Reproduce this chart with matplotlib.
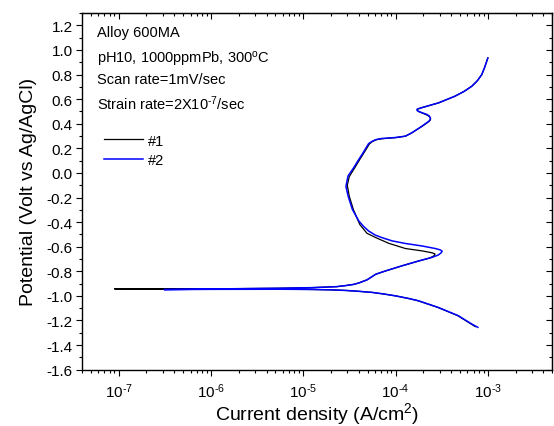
import numpy as np
import matplotlib
matplotlib.use("Agg")
import matplotlib.pyplot as plt
from matplotlib.ticker import MultipleLocator, FormatStrFormatter, LogLocator, NullFormatter, FuncFormatter

plt.rcParams["font.family"] = ["Liberation Sans", "DejaVu Sans"]
plt.rcParams["mathtext.fontset"] = "custom"
plt.rcParams["mathtext.rm"] = "Liberation Sans"
plt.rcParams["mathtext.it"] = "Liberation Sans:italic"
plt.rcParams["mathtext.default"] = "regular"
plt.rcParams["axes.unicode_minus"] = False

# run #2 (blue), from cathodic end through Ecorr to anodic end
cur2 = [7.8e-4, 6.7e-4, 4.8e-4, 2.9e-4, 1.78e-4, 1.4e-4, 1.0e-4, 7.5e-5, 5.6e-5,
        4.0e-5, 2.9e-5, 2.0e-5, 1.25e-5, 5.5e-6, 1.0e-6, 3.1e-7, 1.0e-6, 5.5e-6,
        1.25e-5, 2.3e-5, 2.9e-5, 3.5e-5, 4.0e-5, 4.9e-5, 6.1e-5, 7.8e-5, 1.17e-4,
        1.78e-4, 2.48e-4, 2.9e-4, 3.1e-4, 3.2e-4, 3.05e-4, 2.7e-4, 1.93e-4,
        1.28e-4, 9.2e-5, 7.1e-5, 6.0e-5, 5.1e-5, 4.5e-5, 4.0e-5, 3.4e-5, 3.06e-5,
        2.9e-5, 3.05e-5, 3.5e-5, 4.0e-5, 4.5e-5, 4.8e-5, 5.1e-5, 5.6e-5, 6.2e-5,
        7.1e-5, 1.0e-4, 1.28e-4, 1.5e-4, 1.93e-4, 2.3e-4, 2.37e-4, 2.38e-4,
        2.32e-4, 2.2e-4, 1.86e-4, 1.75e-4, 1.7e-4, 1.72e-4, 1.93e-4, 2.93e-4,
        4.4e-4, 5.5e-4, 6.7e-4, 7.7e-4, 8.6e-4, 9.3e-4, 1.0e-3]
pot2 = [-1.256, -1.229, -1.162, -1.094, -1.040, -1.022, -1.000, -0.985, -0.972,
        -0.963, -0.956, -0.951, -0.948, -0.946, -0.947, -0.949, -0.944, -0.938,
        -0.933, -0.925, -0.916, -0.907, -0.895, -0.870, -0.824, -0.797, -0.756,
        -0.716, -0.687, -0.668, -0.652, -0.637, -0.626, -0.615, -0.594,
        -0.574, -0.553, -0.526, -0.505, -0.472, -0.435, -0.391, -0.296, -0.188,
        -0.110, -0.026, 0.040, 0.110, 0.170, 0.205, 0.238, 0.258, 0.272,
        0.280, 0.288, 0.299, 0.326, 0.380, 0.421, 0.435, 0.448,
        0.462, 0.475, 0.494, 0.503, 0.512, 0.520, 0.531, 0.570,
        0.624, 0.662, 0.705, 0.750, 0.800, 0.865, 0.935]

# run #1 (black)
cur1 = [7.3e-4, 6.5e-4, 4.7e-4, 2.85e-4, 1.75e-4, 1.4e-4, 1.0e-4, 7.5e-5, 5.6e-5,
        4.0e-5, 2.9e-5, 2.0e-5, 1.25e-5, 5.5e-6, 1.0e-6, 9.0e-8, 1.0e-6, 5.5e-6,
        1.25e-5, 2.3e-5, 2.9e-5, 3.5e-5, 4.0e-5, 4.9e-5, 6.1e-5, 7.8e-5, 1.17e-4,
        1.75e-4, 2.35e-4, 2.6e-4, 2.68e-4, 2.5e-4, 1.93e-4, 1.28e-4,
        8.4e-5, 6.1e-5, 4.9e-5, 4.1e-5, 3.5e-5, 3.15e-5, 3.0e-5, 3.15e-5,
        3.6e-5, 4.1e-5, 4.6e-5, 4.9e-5, 5.2e-5, 5.6e-5, 6.2e-5, 7.1e-5, 1.0e-4,
        1.28e-4, 1.5e-4, 1.93e-4, 2.3e-4, 2.38e-4, 2.4e-4, 2.33e-4, 2.2e-4,
        1.88e-4, 1.76e-4, 1.72e-4, 1.74e-4, 1.93e-4, 2.93e-4, 4.4e-4, 5.5e-4,
        6.7e-4, 7.7e-4, 8.6e-4, 9.3e-4, 1.0e-3]
pot1 = [-1.250, -1.226, -1.160, -1.093, -1.040, -1.022, -1.000, -0.985, -0.972,
        -0.963, -0.956, -0.951, -0.948, -0.946, -0.945, -0.943, -0.943, -0.938,
        -0.933, -0.925, -0.916, -0.907, -0.895, -0.870, -0.824, -0.797, -0.756,
        -0.718, -0.692, -0.675, -0.660, -0.650, -0.634, -0.615,
        -0.572, -0.526, -0.491, -0.420, -0.300, -0.190, -0.100, -0.030,
        0.040, 0.110, 0.170, 0.203, 0.235, 0.255, 0.270, 0.278, 0.287,
        0.299, 0.326, 0.378, 0.418, 0.430, 0.442, 0.458, 0.470,
        0.492, 0.501, 0.510, 0.519, 0.531, 0.570, 0.624, 0.662,
        0.705, 0.750, 0.800, 0.865, 0.935]

notes = ["Alloy 600MA", "pH10, 1000ppmPb, 300$^{o}$C", "Scan rate=1mV/sec",
         r"Strain rate=2X10$^{\text{-}7}$/sec"]


def sci_label(v, pos):
    e = int(round(np.log10(v)))
    if e < 0:
        return r"$10^{\text{-}%d}$" % (-e)
    return r"$10^{%d}$" % e


fig = plt.figure(figsize=(5.54, 4.27), dpi=100)
ax = fig.add_axes([0.148, 0.132, 0.849, 0.835])

ax.plot(cur1, pot1, color="black", lw=0.9, label="#1")
ax.plot(cur2, pot2, color="#0000ff", lw=1.1, label="#2")

ax.set_xscale("log")
ax.set_xlim(4e-8, 5e-3)
ax.set_ylim(-1.6, 1.3)
ax.yaxis.set_major_locator(MultipleLocator(0.2))
ax.yaxis.set_minor_locator(MultipleLocator(0.1))
ax.yaxis.set_major_formatter(FormatStrFormatter("%.1f"))
ax.xaxis.set_major_locator(LogLocator(base=10, numticks=12))
ax.xaxis.set_major_formatter(FuncFormatter(sci_label))
ax.xaxis.set_minor_locator(LogLocator(base=10, subs=np.arange(2, 10), numticks=12))
ax.xaxis.set_minor_formatter(NullFormatter())

ax.tick_params(which="both", direction="out", labelsize=11, width=0.8)
ax.tick_params(axis="x", pad=4)
ax.tick_params(axis="y", pad=2)
ax.tick_params(which="major", length=4.5)
ax.tick_params(which="minor", length=2.5)
for s in ax.spines.values():
    s.set_linewidth(1.0)

# inward ticks on top and right
top = ax.secondary_xaxis("top")
top.xaxis.set_major_locator(LogLocator(base=10, numticks=12))
top.xaxis.set_minor_locator(LogLocator(base=10, subs=np.arange(2, 10), numticks=12))
top.tick_params(which="both", direction="in", labeltop=False, width=0.8)
top.tick_params(which="major", length=4.5)
top.tick_params(which="minor", length=2.5)
right = ax.secondary_yaxis("right")
right.yaxis.set_major_locator(MultipleLocator(0.2))
right.yaxis.set_minor_locator(MultipleLocator(0.1))
right.tick_params(which="both", direction="in", labelright=False, width=0.8)
right.tick_params(which="major", length=4.5)
right.tick_params(which="minor", length=2.5)

ax.set_xlabel("Current density (A/cm$^2$)", fontsize=14, labelpad=0)
ax.set_ylabel("Potential (Volt vs Ag/AgCl)", fontsize=14, labelpad=7)

ys = [0.9347, 0.8618, 0.8038, 0.7309]
for t, y in zip(notes, ys):
    ax.text(0.032, y, t, transform=ax.transAxes, fontsize=10.5, va="baseline", ha="left")

ax.legend(loc="upper left", bbox_to_anchor=(0.047, 0.662), frameon=False,
          fontsize=10.5, handlelength=2.7, handletextpad=0.3, labelspacing=0.35,
          borderpad=0, borderaxespad=0)

fig.savefig("out.png", dpi=100)
